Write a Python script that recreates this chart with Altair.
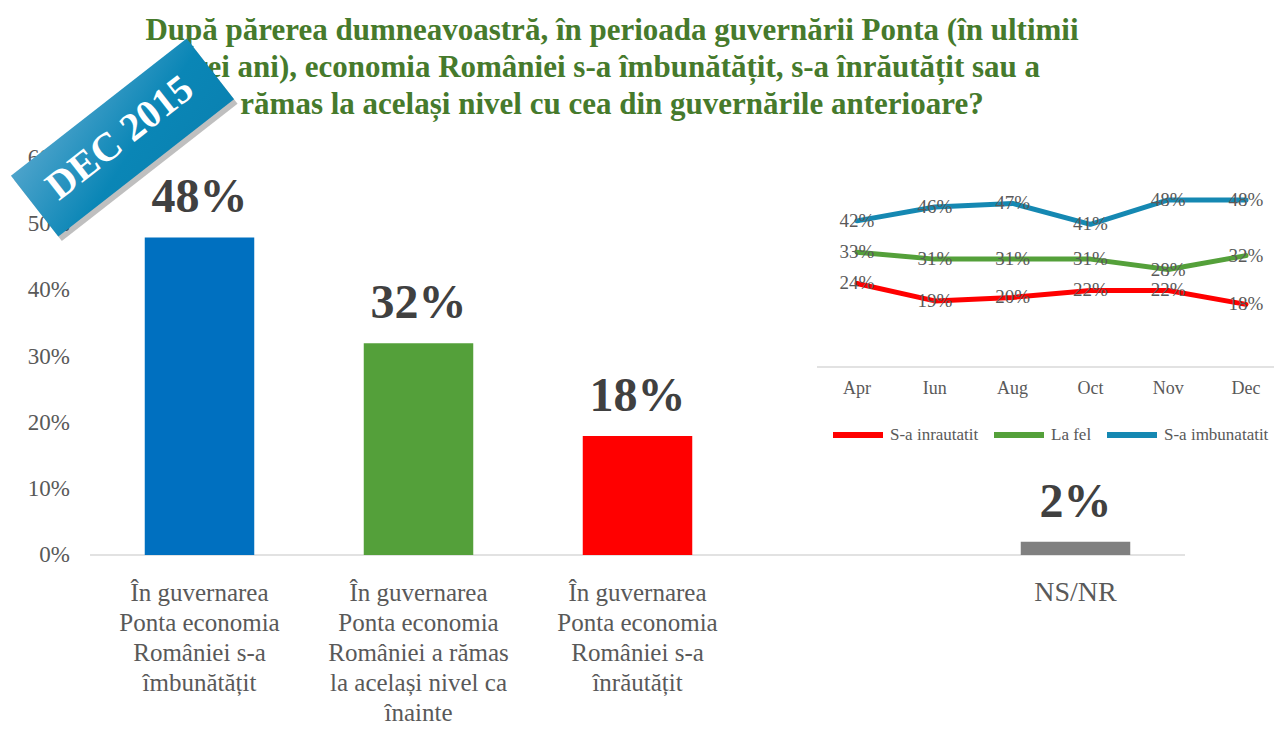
import altair as alt
import pandas as pd

# ---------------- data ----------------
categories = [
    "În guvernarea\nPonta economia\nRomâniei s-a\nîmbunătățit",
    "În guvernarea\nPonta economia\nRomâniei a rămas\nla același nivel ca\nînainte",
    "În guvernarea\nPonta economia\nRomâniei s-a\nînrăutățit",
    " ",
    "NS/NR",
]
values = [48, 32, 18, None, 2]
bar_colors = ["#0070C0", "#54A03A", "#FF0000", "#FFFFFF", "#808080"]
y_ticks = [0, 10, 20, 30, 40, 50, 60]

months = ["Apr", "Iun", "Aug", "Oct", "Nov", "Dec"]
series_names = ["S-a inrautatit", "La fel", "S-a imbunatatit"]
line_colors = ["#FF0000", "#54A03A", "#1588B2"]
inrautatit = [24, 19, 20, 22, 22, 18]
la_fel = [33, 31, 31, 31, 28, 32]
imbunatatit = [42, 46, 47, 41, 48, 48]

title_lines = [
    "După părerea dumneavoastră, în perioada guvernării Ponta (în ultimii",
    "trei ani), economia României s-a îmbunătățit, s-a înrăutățit sau a",
    "rămas la același nivel cu cea din guvernările anterioare?",
]
banner_text = "DEC 2015"

FONT = "Liberation Serif"
GREY = "#595959"

# ---------------- tables ----------------
df_bars = pd.DataFrame({"cat": categories, "value": values})
df_bars["label"] = [f"{int(v)}%" if v is not None and v == v else "" for v in values]
df_ticks = pd.DataFrame({"t": y_ticks, "label": [f"{t}%" for t in y_ticks]})
df_zero = pd.DataFrame({"zero": [0]})

rows = []
for name, vals in zip(series_names, [inrautatit, la_fel, imbunatatit]):
    for i, (m, v) in enumerate(zip(months, vals)):
        rows.append({"month": m, "idx": i, "series": name, "value": v, "label": f"{v}%"})
df_lines = pd.DataFrame(rows)
df_months = pd.DataFrame({"month": months})
df_one = pd.DataFrame({"a": [0]})

# ---------------- scales ----------------
x_main = alt.Scale(domain=categories, range=[82, 1177], paddingInner=0.5, paddingOuter=0.25)
y_main = alt.Scale(domain=[0, 60], range=[547, 150])
x_in = alt.Scale(type="point", domain=months, range=[849, 1238], padding=0)
y_in = alt.Scale(domain=[0, 50], range=[359, 185])

# ---------------- main bar chart ----------------
bars = alt.Chart(df_bars).transform_filter("isValid(datum.value)").mark_bar().encode(
    x=alt.X("cat:N", scale=x_main, axis=None),
    y=alt.Y("value:Q", scale=y_main, axis=None),
    color=alt.Color("cat:N", scale=alt.Scale(domain=categories, range=bar_colors), legend=None),
)
bar_labels = alt.Chart(df_bars).transform_filter("isValid(datum.value)").mark_text(
    font=FONT, fontSize=48, fontWeight="bold", color="#404040", dy=-25, baseline="alphabetic"
).encode(
    x=alt.X("cat:N", scale=x_main, axis=None),
    y=alt.Y("value:Q", scale=y_main, axis=None),
    text="label:N",
)
x_labels = alt.Chart(df_bars).transform_calculate(
    fs="datum.cat == 'NS/NR' ? 28 : 25"
).mark_text(
    font=FONT, color=GREY, lineBreak="\n", lineHeight=30, baseline="alphabetic", align="center"
).encode(
    x=alt.X("cat:N", scale=x_main, axis=None),
    y=alt.value(593),
    size=alt.Size("fs:Q", scale=None, legend=None),
    text="cat:N",
)
y_labels = alt.Chart(df_ticks).mark_text(
    font=FONT, fontSize=23, color=GREY, align="right", baseline="middle"
).encode(
    x=alt.value(62),
    y=alt.Y("t:Q", scale=y_main, axis=None),
    text="label:N",
)
main_base = alt.Chart(df_zero).mark_rule(color="#D9D9D9", strokeWidth=1.5).encode(
    x=alt.value(82), x2=alt.value(1177),
    y=alt.Y("zero:Q", scale=y_main, axis=None),
)

# ---------------- inset line chart ----------------
in_base = alt.Chart(df_zero).mark_rule(color="#D9D9D9", strokeWidth=1.5).encode(
    x=alt.value(809), x2=alt.value(1274),
    y=alt.Y("zero:Q", scale=y_in, axis=None),
)
lines = alt.Chart(df_lines).mark_line(strokeWidth=5, strokeJoin="round", strokeCap="round").encode(
    x=alt.X("month:N", scale=x_in, sort=months, axis=None),
    y=alt.Y("value:Q", scale=y_in, axis=None),
    color=alt.Color(
        "series:N",
        scale=alt.Scale(domain=series_names, range=line_colors),
        legend=alt.Legend(
            title=None, orient="none", legendX=822, legendY=399, direction="horizontal",
            symbolType="stroke", symbolStrokeWidth=6, symbolSize=2500,
            labelFont=FONT, labelFontSize=17, labelColor=GREY, labelOffset=4,
            columnPadding=3, padding=0,
        ),
    ),
    detail="series:N",
    order=alt.Order("idx:Q"),
)
line_labels = alt.Chart(df_lines).mark_text(
    font=FONT, fontSize=19, color=GREY, align="center", baseline="middle"
).encode(
    x=alt.X("month:N", scale=x_in, axis=None),
    y=alt.Y("value:Q", scale=y_in, axis=None),
    text="label:N",
)
month_labels = alt.Chart(df_months).mark_text(
    font=FONT, fontSize=18, color=GREY, align="center", baseline="middle"
).encode(
    x=alt.X("month:N", scale=x_in, axis=None),
    y=alt.value(381),
    text="month:N",
)

# ---------------- title ----------------
title = alt.Chart(df_one).mark_text(
    font=FONT, fontSize=31, fontWeight="bold", color="#467A2C", align="center",
    baseline="alphabetic", lineBreak="\n", lineHeight=37,
).encode(
    x=alt.value(604), y=alt.value(32),
    text=alt.value("\n".join(title_lines)),
)

# ---------------- banner ----------------
rect_path = "M-1,-0.345L1,-0.345L1,0.345L-1,0.345Z"
banner_shadow = alt.Chart(df_one).mark_point(
    shape=rect_path, size=49729, angle=322, filled=True, color="#000000", opacity=0.25, strokeWidth=0
).encode(x=alt.value(118), y=alt.value(134))
banner = alt.Chart(df_one).mark_point(
    shape=rect_path, size=49729, angle=322, filled=True, opacity=1, strokeWidth=0,
    fill=alt.LinearGradient(
        gradient="linear", x1=0, y1=0, x2=1, y2=1,
        stops=[alt.GradientStop(color="#4DA3CB", offset=0), alt.GradientStop(color="#0A86B6", offset=0.6),
               alt.GradientStop(color="#0A82B2", offset=1)],
    ),
).encode(x=alt.value(114.5), y=alt.value(129.5))
banner_label = alt.Chart(df_one).mark_text(
    font=FONT, fontSize=40, fontWeight="bold", color="white", angle=322, align="center", baseline="middle"
).encode(x=alt.value(112), y=alt.value(130), text=alt.value(banner_text))

chart = alt.layer(
    title,
    main_base, bars, bar_labels, x_labels, y_labels,
    in_base, lines, line_labels, month_labels,
    banner_shadow, banner, banner_label,
).resolve_scale(
    x="independent", y="independent", color="independent", size="independent"
).properties(
    width=1266, height=719, autosize=alt.AutoSizeParams(type="none"), padding=0,
    background="white",
).configure_view(stroke=None)

chart.save("out.html", embed_options={"renderer": "svg", "actions": False})
